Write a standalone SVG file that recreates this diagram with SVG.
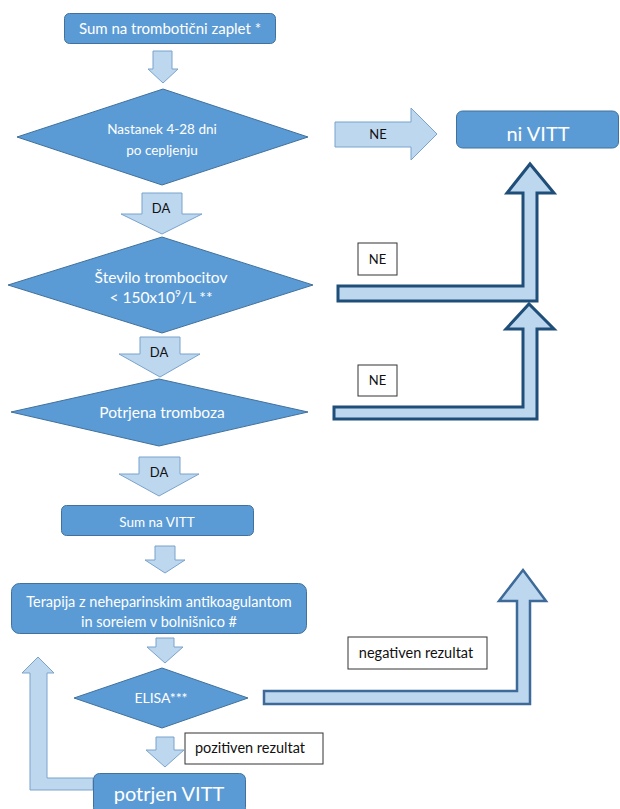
<svg xmlns="http://www.w3.org/2000/svg" width="620" height="809" viewBox="0 0 620 809">
<style>
.node{fill:#5b9bd5;stroke:#41719c;stroke-width:1}
.nt{font-family:Lato,"Liberation Sans",sans-serif;fill:#ffffff;text-anchor:middle;font-size:13.5px}
.mid{font-size:15.5px}
.big{font-size:20px}
.arr{fill:#bdd7ee;stroke:#7aa3cc;stroke-width:1}
.bent{fill:#bdd7ee;stroke:#1f4e79;stroke-width:3;stroke-linejoin:miter}
.bent2{fill:#bdd7ee;stroke:#3d6a99;stroke-width:2.5;stroke-linejoin:miter}
.lt{font-family:Lato,"Liberation Sans",sans-serif;fill:#111111;text-anchor:middle;font-size:13px}
.lbox{fill:#ffffff;stroke:#333333;stroke-width:1}
</style>
<rect width="620" height="809" fill="#ffffff"/>
<g id="connectors">
  <path class="arr" d="M153,51 H172 V69 H178 L163,83 L148,69 H153 Z"/>
  <path class="arr" d="M335,122 H411 V108 L437,134 L411,160 V147 H335 Z"/>
  <text class="lt" x="378" y="138.5">NE</text>
  <path class="arr" d="M142,193 H182 V214 H202 L162,234 L121,214 H142 Z"/>
  <text class="lt" x="161" y="212.5">DA</text>
  <path class="bent" d="M338,286 H523 V193 H507 L530,164 L554,193 H537 V301 H338 Z"/>
  <rect class="lbox" x="358" y="243" width="39" height="32"/>
  <text class="lt" x="377.5" y="263.5">NE</text>
  <path class="arr" d="M140,337 H180 V354 H200 L160,377 L119,354 H140 Z"/>
  <text class="lt" x="159" y="356.5">DA</text>
  <path class="bent" d="M334,407 H523 V329 H506 L529,304 L554,329 H537 V419 H334 Z"/>
  <rect class="lbox" x="358" y="365" width="39" height="31"/>
  <text class="lt" x="377.5" y="385">NE</text>
  <path class="arr" d="M139,457 H180 V474 H199 L159,496 L119,474 H139 Z"/>
  <text class="lt" x="159" y="476.5">DA</text>
  <path class="arr" d="M155,546 H175 V560 H185 L165,573 L145,560 H155 Z"/>
  <path class="arr" d="M156,638 H174 V647 H183 L165,663 L147,647 H156 Z"/>
  <path class="bent2" d="M264,691 H517 V601 H499 L523,570 L546,601 H530 V704 H264 Z"/>
  <rect class="lbox" x="348" y="637" width="139" height="32"/>
  <text class="lt" x="416" y="658" style="font-size:14.5px">negativen rezultat</text>
  <path class="arr" d="M156,737 H174 V750 H184 L165,767 L146,750 H156 Z"/>
  <rect class="lbox" x="185" y="733" width="138" height="31"/>
  <text class="lt" x="250" y="753" style="font-size:14.5px">pozitiven rezultat</text>
  <path class="arr" d="M93,778 H47 V673 H54 L38,657 L22,673 H30 V790 H93 Z"/>
</g>
<g id="start">
  <rect class="node" x="64.5" y="13.5" width="211" height="30" rx="5"/>
  <text class="nt" x="170" y="33.5" style="font-size:15px">Sum na trombotični zaplet *</text>
</g>
<g id="onset">
  <polygon class="node" points="163,89 308,137 162,185 17,137"/>
  <text class="nt" x="162" y="134">Nastanek 4-28 dni</text>
  <text class="nt" x="162" y="155">po cepljenju</text>
</g>
<g id="not-vitt">
  <rect class="node" x="456.5" y="111" width="162" height="37" rx="6"/>
  <text class="nt big" x="538" y="141">ni VITT</text>
</g>
<g id="platelets">
  <polygon class="node" points="162,237 313,285 162,333 8,285"/>
  <text class="nt mid" x="161" y="282.5">Število trombocitov</text>
  <text class="nt mid" x="161" y="303">&lt; 150x10<tspan font-size="10" dy="-6">9</tspan><tspan dy="6">/L **</tspan></text>
</g>
<g id="thrombosis">
  <polygon class="node" points="159,379 308,412 159,446 11,412"/>
  <text class="nt mid" x="162" y="417.5">Potrjena tromboza</text>
</g>
<g id="suspect-vitt">
  <rect class="node" x="61.5" y="505.5" width="192" height="30" rx="5"/>
  <text class="nt" x="157" y="527">Sum na VITT</text>
</g>
<g id="therapy">
  <rect class="node" x="11.5" y="583.5" width="295" height="50" rx="8"/>
  <text class="nt" x="159" y="606.5" style="font-size:14.5px">Terapija z neheparinskim antikoagulantom</text>
  <text class="nt" x="159" y="626.5" style="font-size:14.5px">in soreiem v bolnišnico #</text>
</g>
<g id="elisa">
  <polygon class="node" points="162,668 248,698 162,728 74,698"/>
  <text class="nt" x="161" y="703" style="font-size:14px">ELISA***</text>
</g>
<g id="confirmed">
  <rect class="node" x="93.5" y="773.5" width="152" height="40" rx="6"/>
  <text class="nt" x="169" y="801" style="font-size:20px">potrjen VITT</text>
</g>
</svg>
